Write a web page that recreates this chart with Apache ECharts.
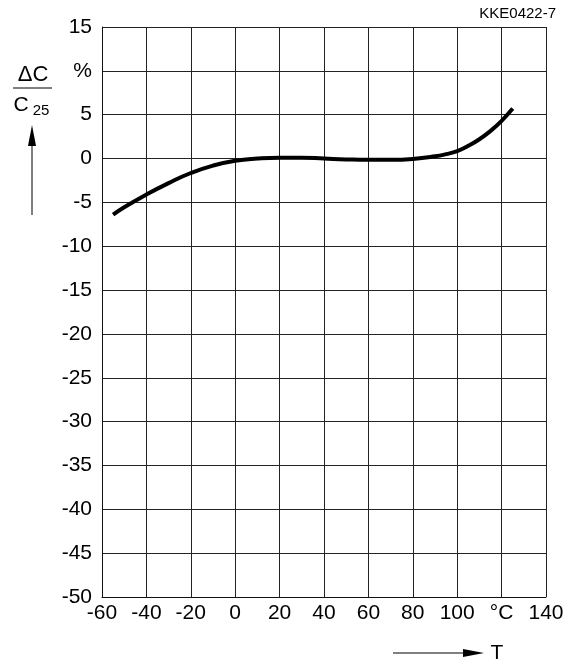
<!DOCTYPE html>
<html>
<head>
<meta charset="utf-8">
<script src="https://cdn.jsdelivr.net/npm/echarts@6/dist/echarts.min.js"></script>
<style>html,body{margin:0;padding:0;background:#fff;}#c{width:570px;height:665px;}</style>
</head>
<body>
<div id="c"></div>
<script>
const temps = [-55, -50, -40, -30, -20, -10, 0, 10, 20, 30, 40, 50, 60, 70, 80, 90, 95, 100, 105, 110, 115, 120, 125];
const deltaC = [-6.4, -5.55, -4.1, -2.8, -1.65, -0.8, -0.25, 0.0, 0.1, 0.1, 0.0, -0.1, -0.15, -0.15, -0.05, 0.25, 0.5, 0.85, 1.45, 2.2, 3.15, 4.3, 5.7];
const xTicks = { min: -60, max: 140, interval: 20, unitAt: 120, unitLabel: '°C' };
const yTicks = { min: -50, max: 15, interval: 5, unitAt: 10, unitLabel: '%' };

const chart = echarts.init(document.getElementById('c'), null, { renderer: 'canvas' });
const font = 'Liberation Sans, Arial, Helvetica, sans-serif';
chart.setOption({
  animation: false,
  backgroundColor: '#fff',
  grid: { left: 102, right: 24, top: 27, bottom: 68 },
  xAxis: {
    type: 'value', min: xTicks.min, max: xTicks.max, interval: xTicks.interval,
    axisLine: { show: true, onZero: false, lineStyle: { color: '#111', width: 1 } },
    axisTick: { show: false },
    splitLine: { show: true, lineStyle: { color: '#222', width: 1 } },
    axisLabel: {
      color: '#000', fontFamily: font, fontSize: 21, margin: 6,
      formatter: v => v === xTicks.unitAt ? xTicks.unitLabel : String(v)
    }
  },
  yAxis: {
    type: 'value', min: yTicks.min, max: yTicks.max, interval: yTicks.interval,
    axisLine: { show: true, onZero: false, lineStyle: { color: '#111', width: 1 } },
    axisTick: { show: false },
    splitLine: { show: true, lineStyle: { color: '#222', width: 1 } },
    axisLabel: {
      color: '#000', fontFamily: font, fontSize: 21, margin: 10,
      formatter: v => v === yTicks.unitAt ? yTicks.unitLabel : String(v)
    }
  },
  series: [{
    type: 'line', smooth: 0.5, symbol: 'none',
    lineStyle: { color: '#000', width: 4 },
    data: temps.map((t, i) => [t, deltaC[i]])
  }],
  graphic: [
    { type: 'text', right: 14, top: 6, style: { text: 'KKE0422-7', font: '15px ' + font, fill: '#000' } },
    { type: 'text', x: 33, y: 75, style: { text: 'ΔC', font: '22px ' + font, fill: '#000', align: 'center', verticalAlign: 'middle' } },
    { type: 'line', shape: { x1: 13, y1: 88, x2: 52, y2: 88 }, style: { stroke: '#000', lineWidth: 1 } },
    { type: 'text', x: 21, y: 105, style: { text: 'C', font: '21px ' + font, fill: '#000', align: 'center', verticalAlign: 'middle' } },
    { type: 'text', x: 41, y: 111, style: { text: '25', font: '15px ' + font, fill: '#000', align: 'center', verticalAlign: 'middle' } },
    { type: 'line', shape: { x1: 32, y1: 215, x2: 32, y2: 140 }, style: { stroke: '#000', lineWidth: 1 } },
    { type: 'polygon', shape: { points: [[32, 125], [28, 146], [36, 146]] }, style: { fill: '#000' } },
    { type: 'line', shape: { x1: 393, y1: 653, x2: 470, y2: 653 }, style: { stroke: '#000', lineWidth: 1 } },
    { type: 'polygon', shape: { points: [[484, 653], [463, 649], [463, 657]] }, style: { fill: '#000' } },
    { type: 'text', x: 497, y: 653, style: { text: 'T', font: '21px ' + font, fill: '#000', align: 'center', verticalAlign: 'middle' } }
  ]
});
</script>
</body>
</html>
